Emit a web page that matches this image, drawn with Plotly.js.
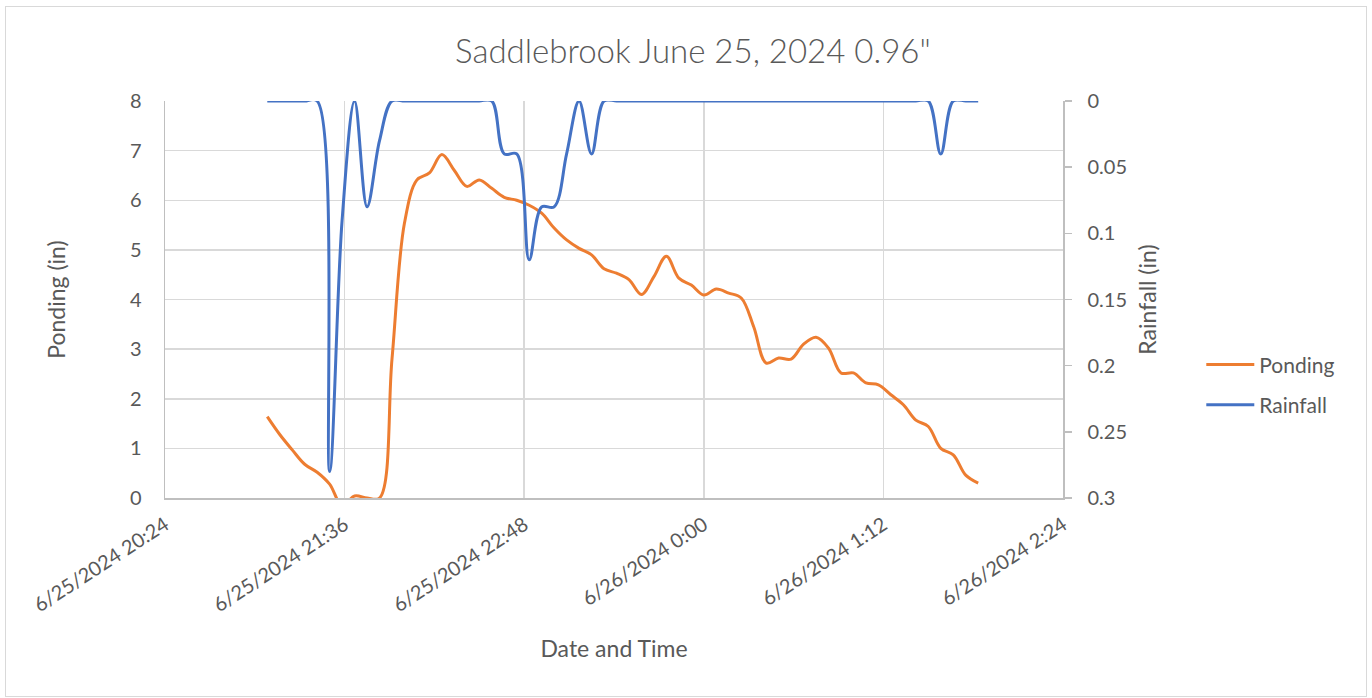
<!DOCTYPE html>
<html><head><meta charset="utf-8">
<script src="https://cdn.plot.ly/plotly-3.0.1.min.js"></script>
<style>
html,body{margin:0;padding:0;background:#fff;}
#chart{position:absolute;left:0;top:0;width:1372px;height:698px;}
#frame{position:absolute;left:5px;top:6px;width:1360px;height:689px;border:1px solid #d9d9d9;pointer-events:none;}
</style></head><body>
<div id="chart"></div><div id="frame"></div>
<script>
const times = [
 '2024-06-25 21:05','2024-06-25 21:10','2024-06-25 21:15','2024-06-25 21:20','2024-06-25 21:25',
 '2024-06-25 21:30','2024-06-25 21:35','2024-06-25 21:40','2024-06-25 21:45','2024-06-25 21:50',
 '2024-06-25 21:55','2024-06-25 22:00','2024-06-25 22:05','2024-06-25 22:10','2024-06-25 22:15',
 '2024-06-25 22:20','2024-06-25 22:25','2024-06-25 22:30','2024-06-25 22:35','2024-06-25 22:40',
 '2024-06-25 22:45','2024-06-25 22:50','2024-06-25 22:55','2024-06-25 23:00','2024-06-25 23:05',
 '2024-06-25 23:10','2024-06-25 23:15','2024-06-25 23:20','2024-06-25 23:25','2024-06-25 23:30',
 '2024-06-25 23:35','2024-06-25 23:40','2024-06-25 23:45','2024-06-25 23:50','2024-06-25 23:55',
 '2024-06-26 00:00','2024-06-26 00:05','2024-06-26 00:10','2024-06-26 00:15','2024-06-26 00:20',
 '2024-06-26 00:25','2024-06-26 00:30','2024-06-26 00:35','2024-06-26 00:40','2024-06-26 00:45',
 '2024-06-26 00:50','2024-06-26 00:55','2024-06-26 01:00','2024-06-26 01:05','2024-06-26 01:10',
 '2024-06-26 01:15','2024-06-26 01:20','2024-06-26 01:25','2024-06-26 01:30','2024-06-26 01:35',
 '2024-06-26 01:40','2024-06-26 01:45','2024-06-26 01:50'
];
const ponding = [
 1.64, 1.28, 0.97, 0.68, 0.52,
 0.28, -0.15, 0.04, 0.0, 0.0,
 2.8, 5.54, 6.41, 6.55, 6.92,
 6.6, 6.28, 6.41, 6.24, 6.06,
 6.0, 5.9, 5.74, 5.44, 5.2,
 5.03, 4.9, 4.62, 4.53, 4.4,
 4.1, 4.46, 4.87, 4.43, 4.29,
 4.09, 4.21, 4.13, 4.03, 3.45,
 2.72, 2.82, 2.8, 3.1, 3.24,
 3.02, 2.52, 2.52, 2.32, 2.28,
 2.08, 1.88, 1.57, 1.44, 1.0,
 0.87, 0.46, 0.3
];
const rainfall = [
 0, 0, 0, 0, 0,
 0.28, 0.09, 0, 0.08, 0.03,
 0, 0, 0, 0, 0,
 0, 0, 0, 0, 0.04,
 0.04, 0.12, 0.08, 0.08, 0.04,
 0, 0.04, 0, 0, 0,
 0, 0, 0, 0, 0,
 0, 0, 0, 0, 0,
 0, 0, 0, 0, 0,
 0, 0, 0, 0, 0,
 0, 0, 0, 0, 0.04,
 0, 0, 0
];
const tickTimes = ['2024-06-25 20:24','2024-06-25 21:36','2024-06-25 22:48','2024-06-26 00:00','2024-06-26 01:12','2024-06-26 02:24'];
const tickLabels = ['6/25/2024 20:24','6/25/2024 21:36','6/25/2024 22:48','6/26/2024 0:00','6/26/2024 1:12','6/26/2024 2:24'];
const rainTicks = [0, 0.05, 0.1, 0.15, 0.2, 0.25, 0.3];

const FONT = 'Lato, "Open Sans", sans-serif';
const TXT = '#595959';

const traces = [
 {x: times, y: ponding, name: 'Ponding', type: 'scatter', mode: 'lines', yaxis: 'y', legendgroup: 'p',
  line: {color: '#ED7D31', width: 3, shape: 'spline', smoothing: 1}},
 {x: times, y: rainfall, name: 'Rainfall', type: 'scatter', mode: 'lines', yaxis: 'y2', legendgroup: 'r',
  line: {color: '#4472C4', width: 3, shape: 'spline', smoothing: 1}}
];

const layout = {
 width: 1372, height: 698,
 margin: {l: 165, r: 309, t: 101, b: 200},
 paper_bgcolor: 'rgba(0,0,0,0)', plot_bgcolor: '#fff',
 font: {family: FONT, size: 20, color: TXT},
 title: {text: 'Saddlebrook June 25, 2024 0.96"', font: {family: FONT, size: 33, color: TXT, weight: 300},
   xref: 'container', x: 0.505, xanchor: 'center', yref: 'container', y: 0.927, yanchor: 'middle'},
 showlegend: true,
 legend: {x: 1.154, xanchor: 'left', y: 0.285, yanchor: 'middle', font: {family: FONT, size: 21, color: TXT},
   tracegroupgap: 10, itemwidth: 48, bgcolor: 'rgba(0,0,0,0)'},
 xaxis: {type: 'date', range: ['2024-06-25 20:24', '2024-06-26 02:24'],
   tickmode: 'array', tickvals: tickTimes, ticktext: tickLabels, tickangle: -33,
   showgrid: true, gridcolor: '#d9d9d9', gridwidth: 1.5,
   showline: true, linecolor: '#bfbfbf', linewidth: 1.5, ticks: '', ticklabelstandoff: 6,
   zeroline: false, tickfont: {size: 20, color: TXT},
   title: {text: 'Date and Time', font: {size: 23, color: TXT}, standoff: 26}},
 yaxis: {range: [0, 8], dtick: 1, tick0: 0, showgrid: true, gridcolor: '#d9d9d9', gridwidth: 1.5,
   showline: true, linecolor: '#bfbfbf', linewidth: 1.5, ticks: '', zeroline: false,
   ticklabelstandoff: 18, tickfont: {size: 20, color: TXT},
   title: {text: 'Ponding (in)', font: {size: 23, color: TXT}, standoff: 58}},
 yaxis2: {overlaying: 'y', side: 'right', range: [0.3, 0], tickmode: 'array', tickvals: rainTicks,
   showgrid: false, zeroline: false, showline: true, linecolor: '#bfbfbf', linewidth: 1.5,
   ticks: 'outside', ticklen: 7, tickwidth: 1.5, tickcolor: '#bfbfbf', ticklabelstandoff: 12,
   tickfont: {size: 20, color: TXT},
   title: {text: 'Rainfall (in)', font: {size: 23, color: TXT}, standoff: 14}}
};

Plotly.newPlot('chart', traces, layout, {displayModeBar: false, staticPlot: true});
</script>
</body></html>
